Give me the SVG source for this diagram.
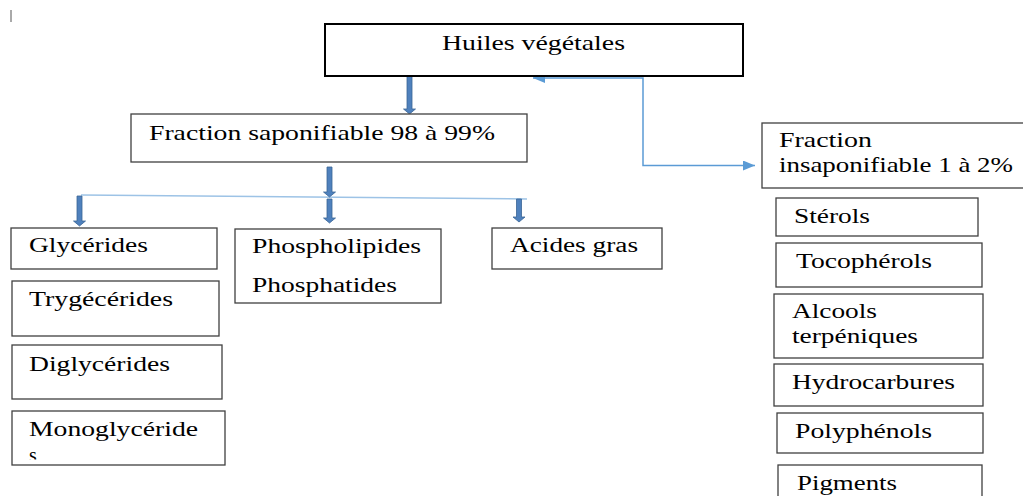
<svg xmlns="http://www.w3.org/2000/svg" width="1023" height="496" viewBox="0 0 1023 496">
<style>
.box{fill:#fff;stroke:#404040;stroke-width:1.3}
.main{fill:#fff;stroke:#000;stroke-width:2}
.t{font-family:"Liberation Serif","Times New Roman",serif;font-size:20px;fill:#000}
.tb{font-family:"Liberation Serif","Times New Roman",serif;font-size:21px;fill:#000}
.barrow{fill:#4f81bd;stroke:#3a6496;stroke-width:0.8}
.thin{fill:none;stroke:#5b9bd5;stroke-width:1.5}
.dist{fill:none;stroke:#9dc3e6;stroke-width:1.5}
</style>
<defs>
<marker id="tri" viewBox="0 0 12 10" refX="12" refY="5" markerWidth="12" markerHeight="10" markerUnits="userSpaceOnUse" orient="auto-start-reverse">
<path d="M0,0 L12,5 L0,10 Z" fill="#5b9bd5"/>
</marker>
<clipPath id="clipS"><rect x="12" y="411" width="213" height="48.5"/></clipPath>
</defs>
<rect x="0" y="0" width="1023" height="496" fill="#fff"/>
<line x1="11" y1="10" x2="11" y2="22" stroke="#555" stroke-width="1"/>

<g id="connectors">
<path class="thin" d="M533,78 H643 V165.5 H755" marker-start="url(#tri)" marker-end="url(#tri)"/>
<path class="dist" d="M81,195 L527,199"/>
<path class="barrow" d="M407,76 H412 V109 H415.5 L409.5,114 L403.5,109 H407 Z"/>
<path class="barrow" d="M327,167 H332 V192 H335.5 L329.5,197 L323.5,192 H327 Z"/>
<path class="barrow" d="M77,196 H82 V221 H85.5 L79.5,226 L73.5,221 H77 Z"/>
<path class="barrow" d="M327,199 H332 V218 H335.5 L329.5,223 L323.5,218 H327 Z"/>
<path class="barrow" d="M516.5,199 H521.5 V217 H525 L519,222 L513,217 H516.5 Z"/>
</g>

<g id="huiles">
<rect class="main" x="325" y="24" width="418" height="52"/>
<text class="tb" x="442" y="50" textLength="183" lengthAdjust="spacingAndGlyphs">Huiles végétales</text>
</g>
<g id="saponifiable">
<rect class="box" x="131" y="114" width="396" height="48"/>
<text class="tb" x="149" y="140" textLength="346" lengthAdjust="spacingAndGlyphs">Fraction saponifiable 98 à 99%</text>
</g>
<g id="insaponifiable">
<rect class="box" x="762" y="123" width="270" height="65"/>
<text class="tb" x="779" y="147" textLength="93" lengthAdjust="spacingAndGlyphs">Fraction</text>
<text class="tb" x="779" y="172" textLength="234" lengthAdjust="spacingAndGlyphs">insaponifiable 1 à 2%</text>
</g>
<g id="glycerides">
<rect class="box" x="11" y="228" width="206" height="41"/>
<text class="t" x="29" y="252" textLength="119" lengthAdjust="spacingAndGlyphs">Glycérides</text>
</g>
<g id="phospholipides">
<rect class="box" x="235" y="229" width="206" height="74"/>
<text class="t" x="252" y="253" textLength="169" lengthAdjust="spacingAndGlyphs">Phospholipides</text>
<text class="t" x="252" y="292" textLength="145" lengthAdjust="spacingAndGlyphs">Phosphatides</text>
</g>
<g id="acides">
<rect class="box" x="492" y="228" width="170" height="41"/>
<text class="t" x="510" y="252" textLength="128" lengthAdjust="spacingAndGlyphs">Acides gras</text>
</g>
<g id="trygecerides">
<rect class="box" x="12" y="281" width="207" height="55"/>
<text class="t" x="29" y="306" textLength="144" lengthAdjust="spacingAndGlyphs">Trygécérides</text>
</g>
<g id="diglycerides">
<rect class="box" x="12" y="345" width="210" height="54"/>
<text class="t" x="29" y="371" textLength="141" lengthAdjust="spacingAndGlyphs">Diglycérides</text>
</g>
<g id="monoglycerides">
<rect class="box" x="12" y="411" width="213" height="54"/>
<text class="t" x="29" y="436" textLength="169" lengthAdjust="spacingAndGlyphs">Monoglycéride</text>
<text class="t" x="29" y="462" clip-path="url(#clipS)">s</text>
</g>
<g id="sterols">
<rect class="box" x="776" y="198" width="202" height="38"/>
<text class="t" x="794" y="223" textLength="76" lengthAdjust="spacingAndGlyphs">Stérols</text>
</g>
<g id="tocopherols">
<rect class="box" x="776" y="243" width="206" height="44"/>
<text class="t" x="796" y="268" textLength="136" lengthAdjust="spacingAndGlyphs">Tocophérols</text>
</g>
<g id="alcools">
<rect class="box" x="774" y="294" width="209" height="64"/>
<text class="t" x="792" y="318" textLength="85" lengthAdjust="spacingAndGlyphs">Alcools</text>
<text class="t" x="792" y="343" textLength="126" lengthAdjust="spacingAndGlyphs">terpéniques</text>
</g>
<g id="hydrocarbures">
<rect class="box" x="774" y="364" width="209" height="42"/>
<text class="t" x="792" y="389" textLength="163" lengthAdjust="spacingAndGlyphs">Hydrocarbures</text>
</g>
<g id="polyphenols">
<rect class="box" x="777" y="413" width="206" height="40"/>
<text class="t" x="795" y="438" textLength="137" lengthAdjust="spacingAndGlyphs">Polyphénols</text>
</g>
<g id="pigments">
<rect class="box" x="778" y="465" width="204" height="40"/>
<text class="t" x="797" y="490" textLength="100" lengthAdjust="spacingAndGlyphs">Pigments</text>
</g>
</svg>
